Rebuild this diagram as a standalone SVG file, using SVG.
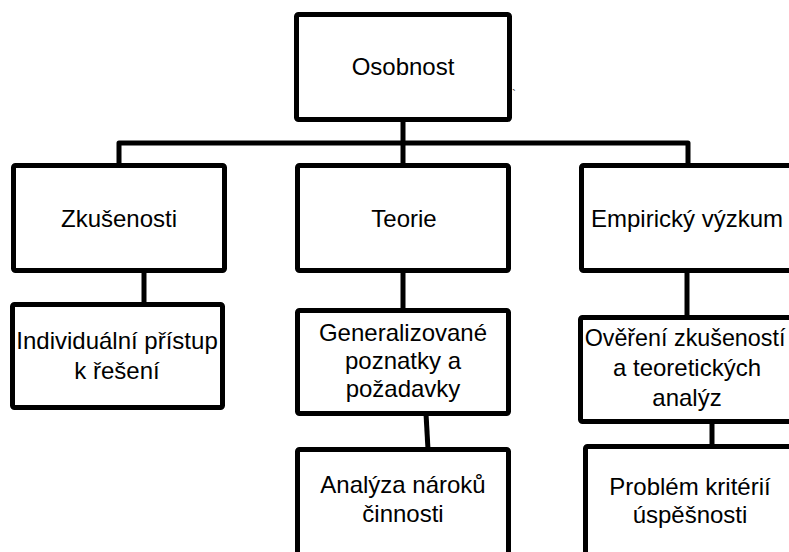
<svg xmlns="http://www.w3.org/2000/svg" width="789" height="552" viewBox="0 0 789 552">
  <style>
    .box { fill: #ffffff; stroke: #000000; stroke-width: 5; stroke-linejoin: round; }
    .link { fill: none; stroke: #000000; stroke-width: 5; stroke-linejoin: round; }
    .label { font-family: "Liberation Sans", Arial, sans-serif; font-size: 24px; fill: #000000; text-anchor: middle; }
    .tight { font-size: 23.3px; }
    .stray { font-family: "Liberation Sans", Arial, sans-serif; font-size: 12px; fill: #444444; }
  </style>
  <rect width="789" height="552" fill="#ffffff"/>

  <!-- connectors -->
  <g id="connectors">
    <path class="link" d="M403 119.5 V143"/>
    <path class="link" d="M119 165.5 V143 H688 V165.5"/>
    <path class="link" d="M403 143 V165.5"/>
    <path class="link" d="M144 270.5 V304.5"/>
    <path class="link" d="M403 270.5 V310.5"/>
    <path class="link" d="M687 270.5 V317.5"/>
    <path class="link" d="M426 413.5 L428 449.5"/>
    <path class="link" d="M712 421.5 V446.5"/>
  </g>

  <!-- level 1 -->
  <g id="osobnost">
    <rect class="box" x="296.5" y="14.5" width="213" height="105" rx="2"/>
    <text class="label" x="403" y="75">Osobnost</text>
  </g>
  <text class="stray" x="512" y="99">`</text>

  <!-- level 2 -->
  <g id="zkusenosti">
    <rect class="box" x="13.5" y="165.5" width="211" height="105" rx="2"/>
    <text class="label" x="119" y="227">Zkušenosti</text>
  </g>
  <g id="teorie">
    <rect class="box" x="297.5" y="165.5" width="211" height="105" rx="2"/>
    <text class="label" x="404" y="227">Teorie</text>
  </g>
  <g id="empiricky-vyzkum">
    <rect class="box" x="581.5" y="165.5" width="214" height="105" rx="2"/>
    <text class="label" x="687" y="227">Empirický výzkum</text>
  </g>

  <!-- level 3 -->
  <g id="individualni-pristup">
    <rect class="box" x="12.5" y="304.5" width="210" height="103" rx="2"/>
    <text class="label" x="117" y="349">Individuální přístup</text>
    <text class="label" x="117" y="379">k řešení</text>
  </g>
  <g id="generalizovane-poznatky">
    <rect class="box" x="297.5" y="310.5" width="211" height="103" rx="2"/>
    <text class="label" x="403" y="341">Generalizované</text>
    <text class="label" x="403" y="369">poznatky a</text>
    <text class="label" x="403" y="397">požadavky</text>
  </g>
  <g id="overeni-zkusenosti">
    <rect class="box" x="580.5" y="317.5" width="216" height="104" rx="2"/>
    <text class="label tight" x="685" y="346">Ověření zkušeností</text>
    <text class="label" x="687" y="376">a teoretických</text>
    <text class="label" x="687" y="406">analýz</text>
  </g>

  <!-- level 4 -->
  <g id="analyza-naroku">
    <rect class="box" x="297.5" y="449.5" width="211" height="110" rx="2"/>
    <text class="label" x="403" y="493">Analýza nároků</text>
    <text class="label" x="403" y="522">činnosti</text>
  </g>
  <g id="problem-kriterii">
    <rect class="box" x="585.5" y="446.5" width="214" height="113" rx="2"/>
    <text class="label" x="690" y="495">Problém kritérií</text>
    <text class="label" x="690" y="523">úspěšnosti</text>
  </g>
</svg>
